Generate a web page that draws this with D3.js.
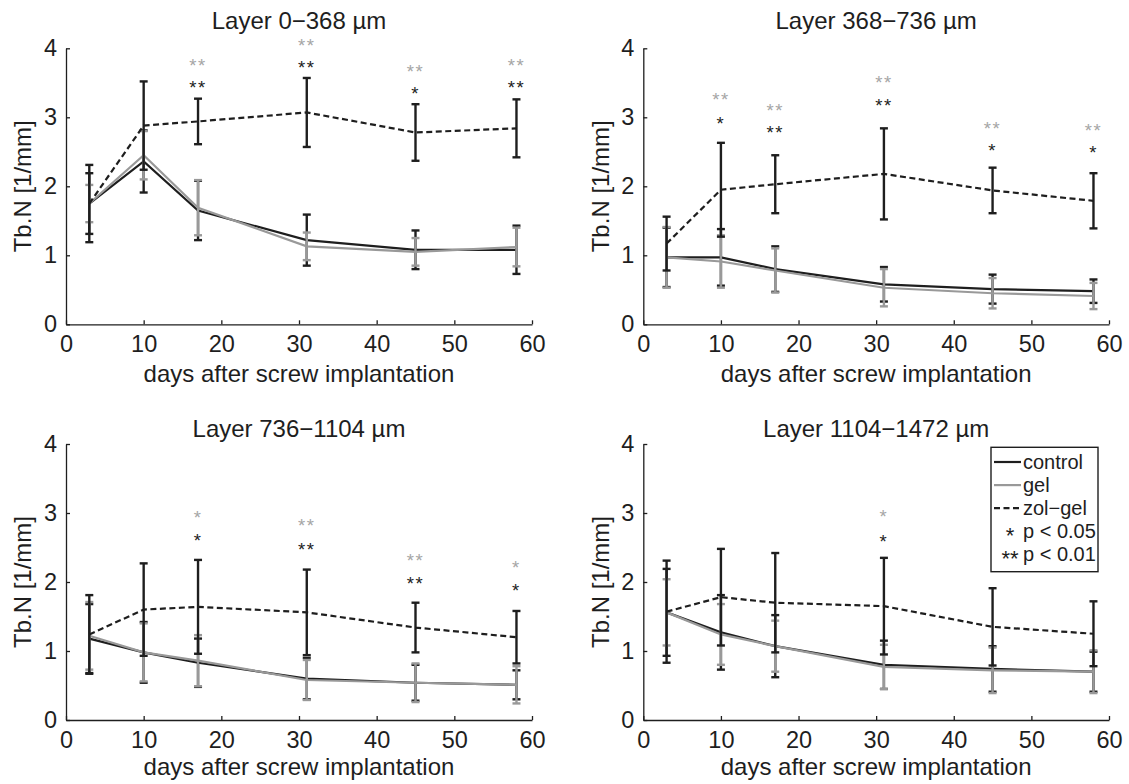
<!DOCTYPE html>
<html><head><meta charset="utf-8">
<script src="https://cdn.jsdelivr.net/npm/d3@7/dist/d3.min.js"></script>
<style>body{margin:0;background:#fff}svg text{font-family:"Liberation Sans",Arial,sans-serif}</style>
</head><body>
<svg id="c" width="1129" height="784"></svg>
<script>
// ---------- data ----------
const days = [3, 10, 17, 31, 45, 58];
const titles = ["Layer 0\u2212368 \u00b5m", "Layer 368\u2212736 \u00b5m", "Layer 736\u22121104 \u00b5m", "Layer 1104\u22121472 \u00b5m"];
const xTicks = [0, 10, 20, 30, 40, 50, 60];
const yTicks = [0, 1, 2, 3, 4];
const xLabel = "days after screw implantation";
const yLabel = "Tb.N [1/mm]";
const seriesNames = ["control", "gel", "zol\u2212gel"];
const legendSig = [["*", "p < 0.05"], ["**", "p < 0.01"]];

// Layer 0-368
const control1 = [1.75, 2.36, 1.65, 1.22, 1.08, 1.08];
const controlSD1 = [0.44, 0.45, 0.43, 0.37, 0.28, 0.35];
const gel1 = [1.75, 2.45, 1.69, 1.13, 1.05, 1.12];
const gelSD1 = [0.27, 0.35, 0.40, 0.20, 0.20, 0.28];
const zol1 = [1.75, 2.88, 2.94, 3.07, 2.78, 2.84];
const zolSD1 = [0.56, 0.64, 0.33, 0.50, 0.41, 0.42];
const sigGel1 = ["", "", "**", "**", "**", "**"];
const sigGelAt1 = [null, null, 3.80, 4.09, 3.72, 3.81];
const sigCtl1 = ["", "", "**", "**", "*", "**"];
const sigCtlAt1 = [null, null, 3.48, 3.77, 3.40, 3.49];

// Layer 368-736
const control2 = [0.97, 0.97, 0.80, 0.58, 0.51, 0.48];
const controlSD2 = [0.43, 0.41, 0.33, 0.25, 0.21, 0.17];
const gel2 = [0.97, 0.91, 0.78, 0.53, 0.45, 0.41];
const gelSD2 = [0.44, 0.38, 0.32, 0.27, 0.22, 0.19];
const zol2 = [1.17, 1.95, 2.03, 2.18, 1.94, 1.79];
const zolSD2 = [0.39, 0.68, 0.42, 0.66, 0.33, 0.40];
const sigGel2 = ["", "**", "**", "**", "**", "**"];
const sigGelAt2 = [null, 3.31, 3.16, 3.56, 2.90, 2.86];
const sigCtl2 = ["", "*", "**", "**", "*", "*"];
const sigCtlAt2 = [null, 2.97, 2.84, 3.22, 2.58, 2.54];

// Layer 736-1104
const control3 = [1.18, 0.98, 0.83, 0.60, 0.54, 0.51];
const controlSD3 = [0.50, 0.44, 0.35, 0.30, 0.26, 0.21];
const gel3 = [1.22, 0.98, 0.86, 0.58, 0.54, 0.51];
const gelSD3 = [0.49, 0.42, 0.37, 0.29, 0.28, 0.27];
const zol3 = [1.24, 1.60, 1.64, 1.56, 1.34, 1.20];
const zolSD3 = [0.57, 0.67, 0.68, 0.62, 0.36, 0.38];
const sigGel3 = ["", "", "*", "**", "**", "*"];
const sigGelAt3 = [null, null, 2.99, 2.87, 2.36, 2.27];
const sigCtl3 = ["", "", "*", "**", "**", "*"];
const sigCtlAt3 = [null, null, 2.66, 2.53, 2.04, 1.93];

// Layer 1104-1472
const control4 = [1.56, 1.27, 1.07, 0.80, 0.74, 0.70];
const controlSD4 = [0.63, 0.54, 0.45, 0.35, 0.33, 0.29];
const gel4 = [1.56, 1.24, 1.07, 0.77, 0.72, 0.70];
const gelSD4 = [0.48, 0.44, 0.37, 0.32, 0.33, 0.31];
const zol4 = [1.57, 1.78, 1.70, 1.65, 1.35, 1.25];
const zolSD4 = [0.74, 0.70, 0.72, 0.70, 0.56, 0.47];
const sigGel4 = ["", "", "", "*", "", ""];
const sigGelAt4 = [null, null, null, 3.01, null, null];
const sigCtl4 = ["", "", "", "*", "", ""];
const sigCtlAt4 = [null, null, null, 2.64, null, null];

// ---------- layout ----------
const BLACK = "#1e1e1e", GRAY = "#999999", STARGRAY = "#a6a6a6";
const FONT = '"Liberation Sans", Arial, sans-serif';
const STARFONT = '"DejaVu Sans", sans-serif';
const panels = [
  {x0: 66, x1: 532, yb: 324.3, yt: 48.3, ty: 29, xl: 58,
   s: [[control1, controlSD1], [gel1, gelSD1], [zol1, zolSD1]], sg: [sigGel1, sigGelAt1], sc: [sigCtl1, sigCtlAt1]},
  {x0: 643.3, x1: 1109, yb: 324.3, yt: 48.3, ty: 29, xl: 58,
   s: [[control2, controlSD2], [gel2, gelSD2], [zol2, zolSD2]], sg: [sigGel2, sigGelAt2], sc: [sigCtl2, sigCtlAt2]},
  {x0: 66, x1: 532, yb: 720, yt: 444, ty: 437, xl: 55,
   s: [[control3, controlSD3], [gel3, gelSD3], [zol3, zolSD3]], sg: [sigGel3, sigGelAt3], sc: [sigCtl3, sigCtlAt3]},
  {x0: 643.3, x1: 1109, yb: 720, yt: 444, ty: 437, xl: 55,
   s: [[control4, controlSD4], [gel4, gelSD4], [zol4, zolSD4]], sg: [sigGel4, sigGelAt4], sc: [sigCtl4, sigCtlAt4]}
];
const styles = [
  {color: BLACK, dash: null},
  {color: GRAY, dash: null},
  {color: BLACK, dash: "6,3.5"}
];

const svg = d3.select("#c");

panels.forEach((p, i) => {
  const x = d3.scaleLinear().domain([0, 60]).range([p.x0, p.x1]);
  const y = d3.scaleLinear().domain([0, 4]).range([p.yb, p.yt]);
  const g = svg.append("g");

  // axes
  const xa = g.append("g").attr("transform", `translate(0,${p.yb})`)
    .call(d3.axisBottom(x).tickValues(xTicks).tickFormat(d3.format("d")).tickSizeInner(-4).tickSizeOuter(0).tickPadding(11));
  const ya = g.append("g").attr("transform", `translate(${p.x0},0)`)
    .call(d3.axisLeft(y).tickValues(yTicks).tickFormat(d3.format("d")).tickSizeInner(-4).tickSizeOuter(0).tickPadding(9));
  [xa, ya].forEach(a => {
    a.select(".domain").attr("stroke", BLACK).attr("stroke-width", 1.3);
    a.selectAll(".tick line").attr("stroke", BLACK).attr("stroke-width", 1.3);
    a.selectAll(".tick text").attr("fill", BLACK).attr("font-size", 23.5).attr("font-family", FONT);
  });

  // title
  g.append("text").attr("x", (p.x0 + p.x1) / 2).attr("y", p.ty)
    .attr("text-anchor", "middle").attr("font-size", 24).attr("fill", BLACK).text(titles[i]);
  // x label
  g.append("text").attr("x", (p.x0 + p.x1) / 2).attr("y", p.yb + p.xl)
    .attr("text-anchor", "middle").attr("font-size", 24).attr("fill", BLACK).text(xLabel);
  // y label
  g.append("text").attr("transform", `translate(${p.x0 - 43},${(p.yt + p.yb) / 2}) rotate(-90)`)
    .attr("text-anchor", "middle").attr("dy", "0.35em").attr("font-size", 24).attr("fill", BLACK).text(yLabel);

  // series: line then error bars, in order control, gel, zol-gel
  p.s.forEach(([m, sd], k) => {
    const st = styles[k];
    const line = d3.line().x((d, j) => x(days[j])).y(d => y(d));
    g.append("path").datum(m).attr("d", line).attr("fill", "none")
      .attr("stroke", st.color).attr("stroke-width", 2.2)
      .attr("stroke-dasharray", st.dash);
    const eb = g.append("g").attr("stroke", st.color).attr("stroke-width", 2.4);
    m.forEach((v, j) => {
      const cx = x(days[j]);
      const hi = y(v + sd[j]), lo = y(v - sd[j]);
      eb.append("line").attr("x1", cx).attr("x2", cx).attr("y1", hi).attr("y2", lo);
      eb.append("line").attr("x1", cx - 4).attr("x2", cx + 4).attr("y1", hi).attr("y2", hi);
      eb.append("line").attr("x1", cx - 4).attr("x2", cx + 4).attr("y1", lo).attr("y2", lo);
    });
  });

  // significance stars: gray (vs gel) above black (vs control)
  const [gl, gAt] = p.sg, [cl, cAt] = p.sc;
  [[gl, gAt, STARGRAY], [cl, cAt, BLACK]].forEach(([lab, at, col]) => {
    days.forEach((d, j) => {
      if (!lab[j]) return;
      g.append("text").attr("x", x(d)).attr("y", y(at[j]) + 10.3)
        .attr("text-anchor", "middle").attr("font-family", STARFONT).attr("font-size", 18.5)
        .attr("letter-spacing", 1.5).attr("fill", col).text(lab[j]);
    });
  });

  // legend in last panel
  if (i === 3) {
    const lg = svg.append("g");
    lg.append("rect").attr("x", 991).attr("y", 447.3).attr("width", 107).attr("height", 124.4)
      .attr("fill", "#fff").attr("stroke", BLACK).attr("stroke-width", 1.4);
    const rowY = d => 462 + d * 23.1;
    seriesNames.forEach((n, k) => {
      lg.append("line").attr("x1", 994).attr("x2", 1021).attr("y1", rowY(k)).attr("y2", rowY(k))
        .attr("stroke", styles[k].color).attr("stroke-width", 2.2).attr("stroke-dasharray", styles[k].dash);
      lg.append("text").attr("x", 1023).attr("y", rowY(k)).attr("dy", "0.35em")
        .attr("font-size", 20).attr("fill", BLACK).text(n);
    });
    legendSig.forEach(([s, t], k) => {
      const yy = rowY(3 + k);
      const tx = lg.append("text").attr("y", yy).attr("font-size", 20).attr("fill", BLACK);
      tx.append("tspan").attr("x", 1010).attr("dy", 12).attr("text-anchor", "middle").attr("font-size", 22).text(s);
      tx.append("tspan").attr("x", 1023).attr("y", yy).attr("dy", "0.35em").text(t);
    });
  }
});
</script>
</body></html>
